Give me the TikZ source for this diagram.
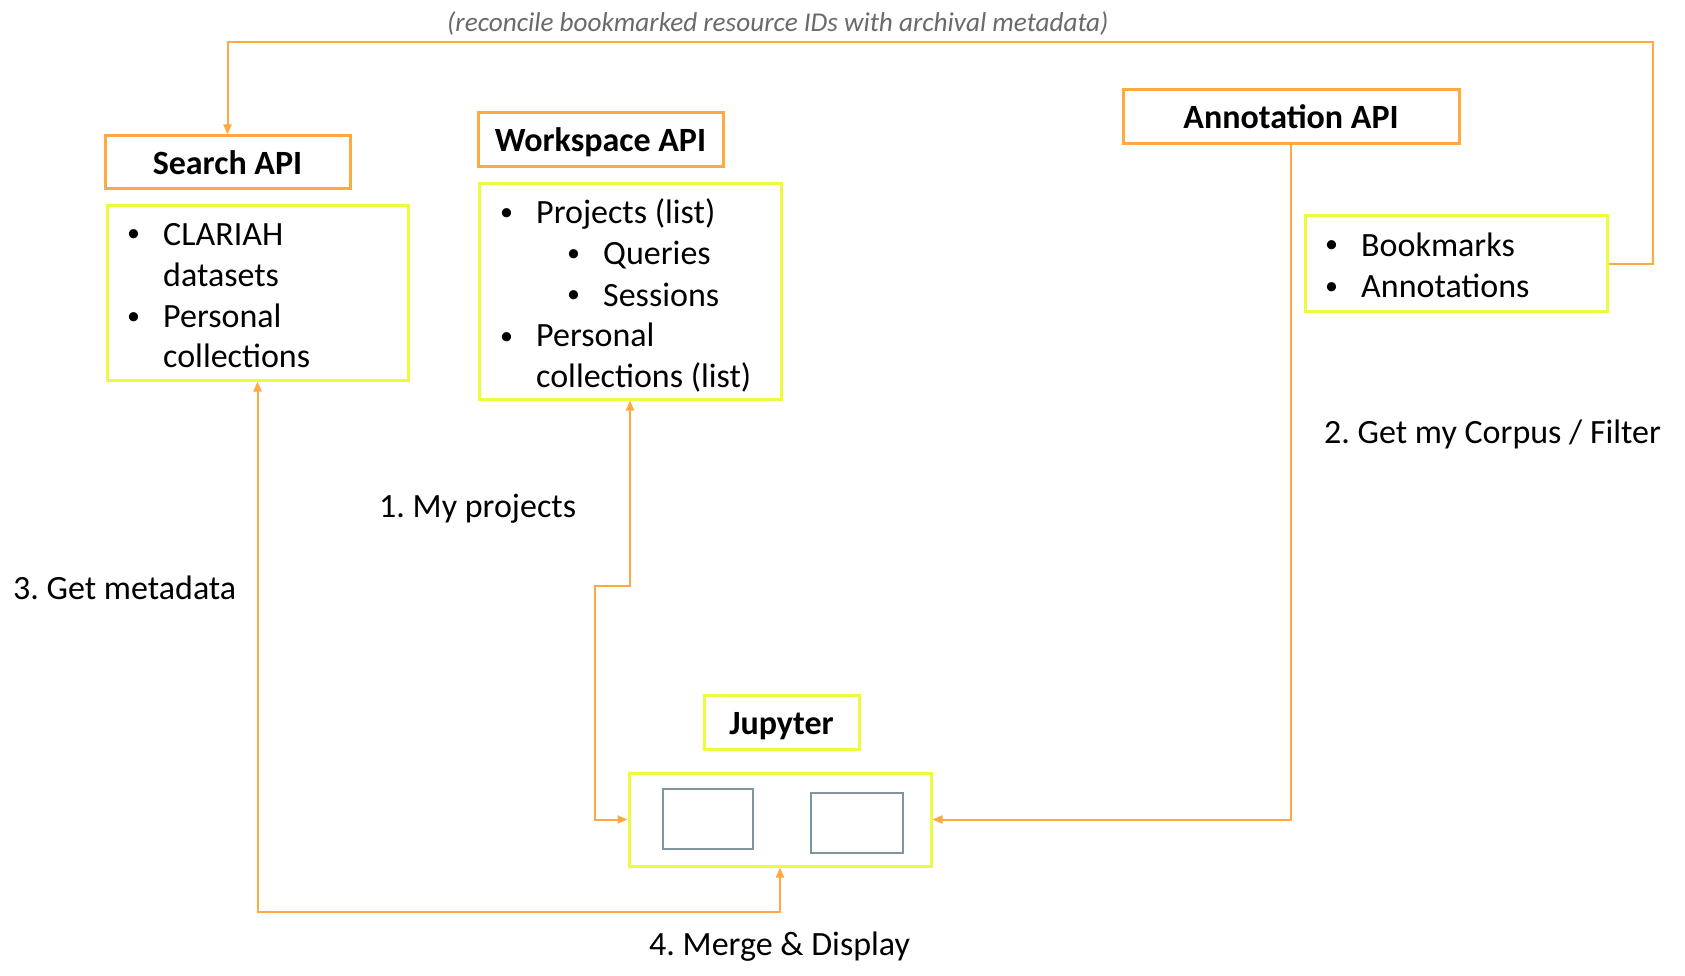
\documentclass[tikz,border=0pt]{standalone}
\usepackage{fontspec}
\setmainfont{Carlito}
\usetikzlibrary{arrows.meta}
\definecolor{orng}{HTML}{FFA940}
\definecolor{ylw}{HTML}{EEFA3C}
\definecolor{slate}{HTML}{7F959F}
\definecolor{lbl}{HTML}{6A6A6A}
\newcommand{\bul}{\makebox[36pt][l]{\raisebox{3pt}{\fontsize{26}{26}\selectfont •}}}
\frenchspacing
\begin{document}
\begin{tikzpicture}[x=1pt,y=-1pt,
  apibox/.style={draw=orng,line width=3pt,inner sep=0pt,text height=24pt,text depth=0pt,font=\fontsize{34}{41}\selectfont\bfseries},
  listbox/.style={draw=ylw,line width=3pt,inner sep=0pt},
  nbbox/.style={draw=slate,line width=2.5pt,inner sep=0pt},
  txt/.style={inner sep=0pt,anchor=base west,font=\fontsize{34}{41}\selectfont},
  conn/.style={draw=orng,line width=2pt},
  tip/.style={-{Triangle[length=10pt,width=8pt]}},
  bothtip/.style={{Triangle[length=10pt,width=8pt]}-{Triangle[length=10pt,width=8pt]}}]
\fill[white] (0,0) rectangle (1685,976);
\useasboundingbox (0,0) rectangle (1685,976);

% API header boxes
\node[apibox,minimum width=245pt,minimum height=53pt] (sapi) at (227.5,162.5) {Search API};
\node[apibox,minimum width=245pt,minimum height=54pt] (wapi) at (600.5,140) {Workspace API};
\node[apibox,minimum width=336pt,minimum height=54pt] (aapi) at (1291,117) {Annotation API};

% list boxes
\node[listbox,minimum width=301pt,minimum height=174pt] (slist) at (257.5,293) {};
\node[listbox,minimum width=302pt,minimum height=215pt] (wlist) at (630,291.5) {};
\node[listbox,minimum width=302pt,minimum height=95pt] (alist) at (1456,263.5) {};

\node[txt] (stext) at (127,245) {\begin{tabular}[t]{@{}l@{}}
\bul CLARIAH\\
\hspace*{36pt}datasets\\
\bul Personal\\
\hspace*{36pt}collections
\end{tabular}};

\node[txt] (wtext) at (500,224) {\begin{tabular}[t]{@{}l@{}}
\bul Projects (list)\\
\hspace*{67pt}\bul Queries\\
\hspace*{67pt}\bul Sessions\\
\bul Personal\\
\hspace*{36pt}collections (list)
\end{tabular}};

\node[txt] (atext) at (1325,256) {\begin{tabular}[t]{@{}l@{}}
\bul Bookmarks\\
\bul Annotations
\end{tabular}};

% Jupyter
\node[listbox,minimum width=155pt,minimum height=54pt,text height=24pt,text depth=0pt,font=\fontsize{34}{41}\selectfont\bfseries] (jlabel) at (781.5,722) {Jupyter};
\node[listbox,minimum width=302pt,minimum height=93pt] (jbox) at (780,819.5) {};
\node[nbbox,minimum width=90pt,minimum height=60pt] (nb1) at (708,819) {};
\node[nbbox,minimum width=92pt,minimum height=60pt] (nb2) at (857,823) {};

% labels
\node[inner sep=0pt,anchor=base west,font=\fontsize{27.2}{32}\selectfont\itshape,text=lbl] (rec) at (447,32) {(reconcile bookmarked resource IDs with archival metadata)};
\node[txt] (l1) at (379,517) {1. My projects};
\node[txt] (l2) at (1324,443) {2. Get my Corpus / Filter};
\node[txt] (l3) at (13,599) {3. Get metadata};
\node[txt] (l4) at (649,955) {4. Merge \& Display};

% connectors
\coordinate (tr) at (1653,42);
\coordinate (tl) at (227.5,42);
\draw[conn,tip] (alist.east) -| (tr) -- (tl) -- (sapi.north);

\coordinate (wk1) at (630,586);
\coordinate (wk2) at (595,819.5);
\draw[conn,bothtip] (wlist.south) -- (wk1) -| (wk2) -- (jbox.west);

\draw[conn,tip] (aapi.south) |- (jbox.east);

\coordinate (sb) at (780,912);
\draw[conn,bothtip] (slist.south) |- (sb) -- (jbox.south);
\end{tikzpicture}
\end{document}
